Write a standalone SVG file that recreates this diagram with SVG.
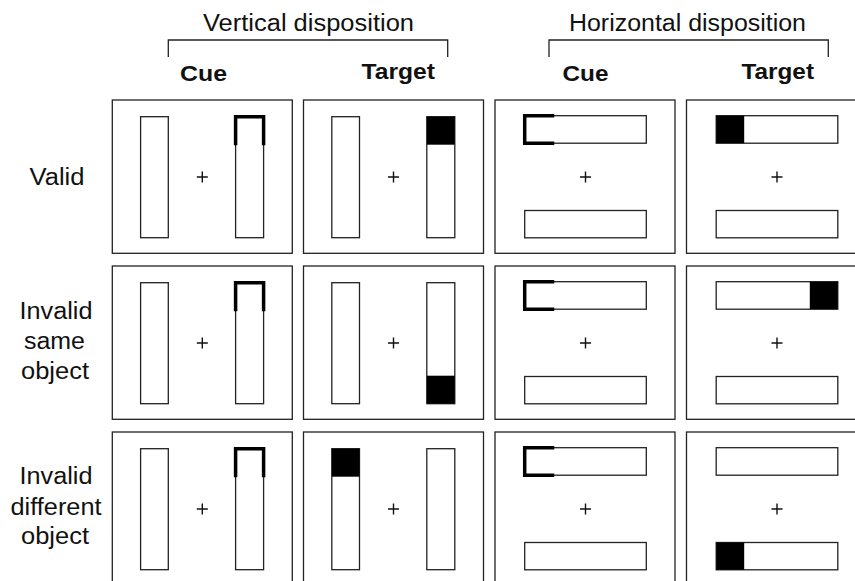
<svg xmlns="http://www.w3.org/2000/svg" xmlns:xlink="http://www.w3.org/1999/xlink" width="855" height="581" viewBox="0 0 855 581">
<style>
.ln{fill:none;stroke:#222;stroke-width:1.3}
.bar{fill:#fff;stroke:#222;stroke-width:1.3}
.pl{fill:none;stroke:#111;stroke-width:1.4}
.cue{fill:none;stroke:#000;stroke-width:3.5;stroke-linecap:square}
.tgt{fill:#000}
.t{font-family:"Liberation Sans",Arial,sans-serif;font-size:23px;fill:#111}
.b{font-family:"Liberation Sans",Arial,sans-serif;font-size:21.5px;font-weight:bold;fill:#111}
.lab{font-family:"Liberation Sans",Arial,sans-serif;font-size:23px;fill:#111;text-anchor:middle}
</style>
<defs>
<g id="vpanel">
<rect class="ln" x="0" y="0" width="180" height="153.3" fill="#fff"/>
<rect class="bar" x="28.3" y="16.7" width="27.7" height="121"/>
<rect class="bar" x="123.3" y="16.7" width="28" height="121"/>
<path class="pl" d="M84.5 77H95.5M90 71.5V82.5"/>
</g>
<g id="hpanel">
<rect class="ln" x="0" y="0" width="180" height="153.3" fill="#fff"/>
<rect class="bar" x="29.7" y="15.7" width="121.6" height="27.5"/>
<rect class="bar" x="29.7" y="110.5" width="121.6" height="27.3"/>
<path class="pl" d="M85 77H96M90.5 71.5V82.5"/>
</g>
<path id="vcue" class="cue" d="M123.3 43.5V16.7H151.3V43.5"/>
<path id="hcue" class="cue" d="M57.5 15.7H29.7V43.2H57.5"/>
</defs>

<g id="headers">
<text class="t" x="203" y="31" textLength="211" lengthAdjust="spacingAndGlyphs">Vertical disposition</text>
<text class="t" x="569" y="31" textLength="237" lengthAdjust="spacingAndGlyphs">Horizontal disposition</text>
<text class="b" x="180" y="81" textLength="47" lengthAdjust="spacingAndGlyphs">Cue</text>
<text class="b" x="361.5" y="78.5" textLength="73.5" lengthAdjust="spacingAndGlyphs">Target</text>
<text class="b" x="562.5" y="81" textLength="46" lengthAdjust="spacingAndGlyphs">Cue</text>
<text class="b" x="741.5" y="78.5" textLength="72.5" lengthAdjust="spacingAndGlyphs">Target</text>
</g>

<g id="brackets">
<path class="ln" d="M168.3 57V40H447.7V57"/>
<path class="ln" d="M549 57V40H828.3V57"/>
</g>

<g id="row-labels">
<text class="lab" x="57" y="185" textLength="55" lengthAdjust="spacingAndGlyphs">Valid</text>
<text class="lab" x="56" y="318.5" textLength="73" lengthAdjust="spacingAndGlyphs">Invalid</text>
<text class="lab" x="54.5" y="349" textLength="61" lengthAdjust="spacingAndGlyphs">same</text>
<text class="lab" x="55" y="379" textLength="68" lengthAdjust="spacingAndGlyphs">object</text>
<text class="lab" x="56" y="483.5" textLength="73" lengthAdjust="spacingAndGlyphs">Invalid</text>
<text class="lab" x="56" y="514.5" textLength="91" lengthAdjust="spacingAndGlyphs">different</text>
<text class="lab" x="55" y="544" textLength="68" lengthAdjust="spacingAndGlyphs">object</text>
</g>

<g id="valid-vertical-cue" transform="translate(112.3,100)">
<use xlink:href="#vpanel"/><use xlink:href="#vcue"/>
</g>
<g id="valid-vertical-target" transform="translate(303.5,100)">
<use xlink:href="#vpanel"/><rect class="tgt" x="123.3" y="16.7" width="28" height="28"/>
</g>
<g id="valid-horizontal-cue" transform="translate(495,100)">
<use xlink:href="#hpanel"/><use xlink:href="#hcue"/>
</g>
<g id="valid-horizontal-target" transform="translate(686.5,100)">
<use xlink:href="#hpanel"/><rect class="tgt" x="29.7" y="15.7" width="28" height="27.5"/>
</g>

<g id="same-vertical-cue" transform="translate(112.3,266)">
<use xlink:href="#vpanel"/><use xlink:href="#vcue"/>
</g>
<g id="same-vertical-target" transform="translate(303.5,266)">
<use xlink:href="#vpanel"/><rect class="tgt" x="123.3" y="109.7" width="28" height="28"/>
</g>
<g id="same-horizontal-cue" transform="translate(495,266)">
<use xlink:href="#hpanel"/><use xlink:href="#hcue"/>
</g>
<g id="same-horizontal-target" transform="translate(686.5,266)">
<use xlink:href="#hpanel"/><rect class="tgt" x="123.3" y="15.7" width="28" height="27.5"/>
</g>

<g id="diff-vertical-cue" transform="translate(112.3,432)">
<use xlink:href="#vpanel"/><use xlink:href="#vcue"/>
</g>
<g id="diff-vertical-target" transform="translate(303.5,432)">
<use xlink:href="#vpanel"/><rect class="tgt" x="28.3" y="16.7" width="27.7" height="28"/>
</g>
<g id="diff-horizontal-cue" transform="translate(495,432)">
<use xlink:href="#hpanel"/><use xlink:href="#hcue"/>
</g>
<g id="diff-horizontal-target" transform="translate(686.5,432)">
<use xlink:href="#hpanel"/><rect class="tgt" x="29.7" y="110.5" width="28" height="27.3"/>
</g>

<g id="connectors"/>
</svg>
